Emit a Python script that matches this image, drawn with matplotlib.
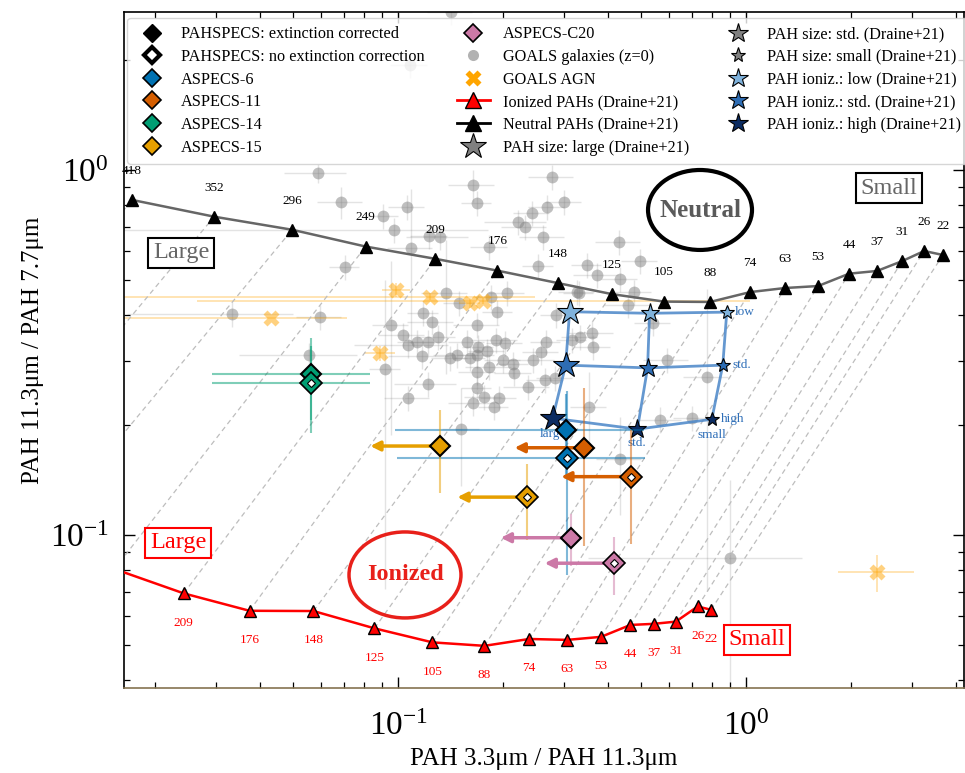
import numpy as np
import matplotlib
matplotlib.use("Agg")
import matplotlib.pyplot as plt
from matplotlib.lines import Line2D
from matplotlib.patches import Ellipse
from matplotlib.ticker import NullFormatter

plt.rcParams['font.family'] = ['Liberation Serif', 'DejaVu Serif']
plt.rcParams['mathtext.fontset'] = 'stix'

# ---------------- data ----------------
# Draine+21 neutral PAH tracks (number of C atoms)
neutral_nc = [418, 352, 296, 249, 209, 176, 148, 125, 105, 88, 74, 63, 53, 44, 37, 31, 26, 22]
neutral_x = [0.0172, 0.0296, 0.0496, 0.0807, 0.128, 0.193, 0.288, 0.412, 0.581, 0.788,
             1.027, 1.294, 1.61, 1.977, 2.379, 2.81, 3.25, 3.68]
neutral_y = [0.828, 0.745, 0.686, 0.617, 0.571, 0.530, 0.490, 0.457, 0.436, 0.435,
             0.463, 0.475, 0.481, 0.520, 0.529, 0.563, 0.600, 0.585]

# ionized PAH tracks (first four fall left of the plotted range)
ionized_nc = [418, 352, 296, 249, 209, 176, 148, 125, 105, 88, 74, 63, 53, 44, 37, 31, 26, 22]
ionized_x = [0.00329, 0.00566, 0.00948, 0.0153, 0.0242, 0.0374, 0.0571, 0.0855, 0.1255, 0.177,
             0.238, 0.306, 0.383, 0.465, 0.543, 0.628, 0.726, 0.793]
ionized_y = [0.125, 0.112, 0.102, 0.0807, 0.0692, 0.0620, 0.0619, 0.0555, 0.0508, 0.0497,
             0.0519, 0.0516, 0.0526, 0.0567, 0.0571, 0.0579, 0.0637, 0.0624]

# PAH size / ionization grid (rows: ioniz low, std, high; cols: size large, std, small)
grid_x = [[0.311, 0.528, 0.880],
          [0.303, 0.521, 0.857],
          [0.278, 0.487, 0.797]]
grid_y = [[0.409, 0.405, 0.408],
          [0.292, 0.287, 0.292],
          [0.209, 0.195, 0.2075]]

# ASPECS galaxies
aspecs_names = ['ASPECS-6', 'ASPECS-11', 'ASPECS-14', 'ASPECS-15', 'ASPECS-C20']
aspecs_colors = ['#0072b2', '#d55e00', '#009e73', '#e69f00', '#cc79a7']
corr_x = [0.304, 0.343, 0.0561, 0.132, 0.313]
corr_y = [0.194, 0.1734, 0.2761, 0.1753, 0.0983]
corr_xerr = [0.206, 0.0, 0.027, 0.0, 0.0]
corr_yerr = [0.05, 0.08, 0.07, 0.045, 0.016]
nocorr_x = [0.306, 0.467, 0.0561, 0.2349, 0.4185]
nocorr_y = [0.1625, 0.1445, 0.2603, 0.127, 0.0837]
nocorr_xerr = [0.207, 0.0, 0.027, 0.0, 0.0]
nocorr_yerr = [0.085, 0.05, 0.07, 0.03, 0.015]
x_upper_limit = [False, True, False, True, True]
limit_arrow_factor = 0.63

# GOALS AGN
agn_x = [0.0432, 0.0888, 0.0987, 0.1236, 0.161, 0.1755, 2.379]
agn_y = [0.393, 0.315, 0.469, 0.449, 0.432, 0.4376, 0.0792]
agn_x_lo = [0.012, 0.080, 0.090, 0.012, 0.150, 0.0265, 1.838]
agn_x_hi = [0.0712, 0.098, 0.108, 0.2475, 0.172, 1.027, 3.04]
agn_y_lo = [0.393, 0.300, 0.450, 0.440, 0.420, 0.430, 0.0698]
agn_y_hi = [0.393, 0.330, 0.490, 0.460, 0.445, 0.445, 0.0882]

# GOALS galaxies (z=0)
goals_x = [0.142, 0.108, 0.0589, 0.0686, 0.0906, 0.0974, 0.106, 0.109, 0.0704, 0.123,
           0.132, 0.164, 0.168, 0.183, 0.221, 0.232, 0.243, 0.253, 0.261, 0.268,
           0.137, 0.206, 0.185, 0.277, 0.300, 0.432, 0.496, 0.349, 0.373, 0.435,
           0.331, 0.477, 0.0333, 0.0597, 0.0555, 0.0918, 0.0955, 0.103, 0.107, 0.113,
           0.118, 0.125, 0.130, 0.117, 0.150, 0.158, 0.169, 0.170, 0.180, 0.191,
           0.203, 0.193, 0.141, 0.148, 0.161, 0.168, 0.183, 0.200, 0.214, 0.215,
           0.244, 0.258, 0.266, 0.265, 0.236, 0.169, 0.168, 0.176, 0.164, 0.195,
           0.188, 0.122, 0.107, 0.152, 0.327, 0.458, 0.284, 0.540, 0.361, 0.333,
           0.316, 0.363, 0.593, 0.283, 0.773, 0.354, 0.566, 0.700, 0.435, 0.899,
           0.122]
goals_y = [2.71, 1.94, 0.981, 0.817, 0.748, 0.685, 0.792, 0.611, 0.542, 0.659,
           0.655, 0.910, 0.812, 0.615, 0.720, 0.698, 0.762, 0.546, 0.655, 0.792,
           0.460, 0.460, 0.449, 0.957, 0.817, 0.635, 0.563, 0.549, 0.516, 0.503,
           0.460, 0.463, 0.403, 0.396, 0.311, 0.285, 0.376, 0.353, 0.332, 0.338,
           0.406, 0.383, 0.349, 0.309, 0.432, 0.338, 0.376, 0.328, 0.319, 0.342,
           0.336, 0.408, 0.305, 0.311, 0.305, 0.311, 0.289, 0.302, 0.294, 0.278,
           0.302, 0.317, 0.338, 0.266, 0.254, 0.280, 0.253, 0.239, 0.230, 0.237,
           0.224, 0.259, 0.237, 0.195, 0.463, 0.427, 0.401, 0.381, 0.358, 0.349,
           0.342, 0.328, 0.302, 0.269, 0.271, 0.224, 0.207, 0.209, 0.162, 0.0865,
           0.338]
goals_xerr_rel = [0.15, 0.12, 0.20, 0.15, 0.10, 0.86, 0.12, 0.15, 0.10, 0.12,
                  0.20, 0.15, 0.10, 0.12, 0.20, 0.15, 0.12, 0.10, 0.15, 0.12,
                  0.15, 0.12, 0.10, 0.15, 0.12, 0.15, 0.12, 0.10, 0.15, 0.12,
                  0.10, 0.12, 0.50, 0.15, 0.37, 0.10, 0.12, 0.15, 0.30, 0.12,
                  0.10, 0.15, 0.12, 0.20, 0.10, 0.12, 0.15, 0.10, 0.12, 0.15,
                  0.12, 0.10, 0.12, 0.15, 0.10, 0.12, 0.15, 0.12, 0.10, 0.12,
                  0.15, 0.12, 0.10, 0.12, 0.15, 0.12, 0.10, 0.12, 0.15, 0.12,
                  0.10, 0.20, 0.15, 0.12, 0.12, 0.15, 0.10, 0.12, 0.15, 0.12,
                  0.10, 0.12, 0.15, 0.12, 0.15, 0.12, 0.15, 0.12, 0.15, 0.61,
                  0.12]
goals_yerr_rel = [0.08, 0.08, 0.06, 0.10, 0.08, 0.08, 0.08, 0.45, 0.08, 0.08,
                  0.08, 0.10, 0.08, 0.08, 0.08, 0.08, 0.08, 0.08, 0.08, 0.08,
                  0.40, 0.08, 0.08, 0.08, 0.08, 0.08, 0.08, 0.08, 0.08, 0.08,
                  0.08, 0.08, 0.08, 0.08, 0.08, 0.75, 0.50, 0.08, 0.08, 0.08,
                  0.08, 0.08, 0.08, 0.08, 0.08, 0.08, 0.08, 0.08, 0.08, 0.08,
                  0.08, 0.08, 0.08, 0.08, 0.08, 0.08, 0.08, 0.08, 0.08, 0.08,
                  0.08, 0.08, 0.08, 0.08, 0.08, 0.08, 0.08, 0.08, 0.08, 0.08,
                  0.08, 0.08, 0.08, 0.30, 0.08, 0.08, 0.08, 0.08, 0.08, 0.08,
                  0.08, 0.08, 0.08, 0.08, 0.74, 0.25, 0.08, 0.08, 0.30, 0.64,
                  0.08]

# ---------------- figure ----------------
fig = plt.figure(figsize=(9.65, 7.73), dpi=100)
ax = fig.add_axes([0.1285, 0.1100, 0.8705, 0.8745])
ax.set_xscale('log')
ax.set_yscale('log')
ax.set_xlim(0.0163, 4.23)
ax.set_ylim(0.0381, 2.71)

# GOALS galaxies
gx = np.array(goals_x)
gy = np.array(goals_y)
ax.errorbar(gx, gy, xerr=gx * np.array(goals_xerr_rel), yerr=gy * np.array(goals_yerr_rel),
            fmt='none', ecolor='grey', elinewidth=1.0, alpha=0.22, zorder=1)
ax.plot(gx, gy, 'o', color='grey', ms=8.5, mec='none', alpha=0.5, zorder=2)

# GOALS AGN
ax_ = np.array(agn_x)
ay_ = np.array(agn_y)
ax.errorbar(ax_, ay_, xerr=[ax_ - np.array(agn_x_lo), np.array(agn_x_hi) - ax_],
            yerr=[ay_ - np.array(agn_y_lo), np.array(agn_y_hi) - ay_],
            fmt='none', ecolor='orange', elinewidth=1.2, alpha=0.35, zorder=2)
ax.plot(ax_, ay_, 'X', color='orange', ms=12, mec='none', alpha=0.5, zorder=3)

# dashed connectors between ionized and neutral tracks
for i in range(len(neutral_nc)):
    ax.plot([ionized_x[i], neutral_x[i]], [ionized_y[i], neutral_y[i]], ls=(0, (4, 3)),
            color='#bdbdbd', lw=0.9, zorder=2.5)

# neutral track
ax.plot(neutral_x, neutral_y, '-', color='#666666', lw=1.8, zorder=4)
ax.plot(neutral_x, neutral_y, '^', color='black', ms=9, zorder=4.5)
for n, x, y in zip(neutral_nc, neutral_x, neutral_y):
    ax.annotate(str(n), (x, y), xytext=(0, 21), textcoords='offset points',
                ha='center', va='center', fontsize=9.5, color='black', zorder=4.5)

# ionized track
ax.plot(ionized_x, ionized_y, '-', color='red', lw=1.8, zorder=4)
ax.plot(ionized_x, ionized_y, '^', mfc='red', mec='black', mew=1.0, ms=9, zorder=4.5)
for n, x, y in zip(ionized_nc, ionized_x, ionized_y):
    ax.annotate(str(n), (x, y), xytext=(0, -21), textcoords='offset points',
                ha='center', va='center', fontsize=9.5, color='red', zorder=4.5)

# size / ionization grid
ion_colors = ['#7fb2dc', '#2e6db4', '#0c2c62']
size_ms = [19, 14, 10.5]
gxg = np.array(grid_x)
gyg = np.array(grid_y)
for r in range(3):
    ax.plot(gxg[r], gyg[r], '-', color='#4a86c8', lw=2, alpha=0.85, zorder=5)
for c in range(3):
    ax.plot(gxg[:, c], gyg[:, c], '-', color='#4a86c8', lw=2, alpha=0.85, zorder=5)
for r in range(3):
    for c in range(3):
        ax.plot(gxg[r, c], gyg[r, c], '*', ms=size_ms[c], mfc=ion_colors[r], mec='black',
                mew=0.8, zorder=5.5)
lab_col = '#2f6fb8'
ax.annotate('low', (gxg[0, 2], gyg[0, 2]), xytext=(6, 0), textcoords='offset points',
            ha='left', va='center', fontsize=9.5, color=lab_col, zorder=5.5)
ax.annotate('std.', (gxg[1, 2], gyg[1, 2]), xytext=(7, 0), textcoords='offset points',
            ha='left', va='center', fontsize=9.5, color=lab_col, zorder=5.5)
ax.annotate('high', (gxg[2, 2], gyg[2, 2]), xytext=(6.5, 0.5), textcoords='offset points',
            ha='left', va='center', fontsize=9.5, color=lab_col, zorder=5.5)
ax.annotate('small', (gxg[2, 2], gyg[2, 2]), xytext=(0, -11), textcoords='offset points',
            ha='center', va='center', fontsize=9.5, color=lab_col, zorder=5.5)
ax.annotate('std.', (gxg[2, 1], gyg[2, 1]), xytext=(0, -10), textcoords='offset points',
            ha='center', va='center', fontsize=9.5, color=lab_col, zorder=5.5)
ax.annotate('large', (gxg[2, 0], gyg[2, 0]), xytext=(0, -11.5), textcoords='offset points',
            ha='center', va='center', fontsize=9.5, color=lab_col, zorder=5.5)

# ASPECS
for i, (name, col) in enumerate(zip(aspecs_names, aspecs_colors)):
    for (px, py, pxe, pye, opn) in [(corr_x[i], corr_y[i], corr_xerr[i], corr_yerr[i], False),
                                   (nocorr_x[i], nocorr_y[i], nocorr_xerr[i], nocorr_yerr[i], True)]:
        ax.errorbar([px], [py], xerr=[pxe] if pxe > 0 else None, yerr=[pye],
                    fmt='none', ecolor=col, elinewidth=1.5, alpha=0.5, zorder=6)
        if x_upper_limit[i]:
            ax.annotate('', xy=(px * limit_arrow_factor, py), xytext=(px, py),
                        arrowprops=dict(arrowstyle='-|>', color=col, lw=2.5,
                                        mutation_scale=14, shrinkA=0, shrinkB=0),
                        zorder=6.5)
        if opn:
            ax.plot(px, py, 'D', ms=11.5, mfc=col, mec='black', mew=1.2, zorder=7.5)
            ax.plot(px, py, 'D', ms=4.5, mfc='white', mec='black', mew=0.8, zorder=7.6)
        else:
            ax.plot(px, py, 'D', ms=10, mfc=col, mec='black', mew=1.5, zorder=7)

# region annotations
box_kw = dict(boxstyle='square,pad=0.2', fc='white', lw=1.5)
ax.text(0.0679, 0.6435, 'Large', transform=ax.transAxes, ha='center', va='center',
        fontsize=17.5, color='#666666', bbox=dict(ec='black', **box_kw), zorder=8)
ax.text(0.9107, 0.7396, 'Small', transform=ax.transAxes, ha='center', va='center',
        fontsize=17.5, color='#666666', bbox=dict(ec='black', **box_kw), zorder=8)
ax.text(0.0643, 0.2145, 'Large', transform=ax.transAxes, ha='center', va='center',
        fontsize=17.5, color='red', bbox=dict(ec='red', **box_kw), zorder=8)
ax.text(0.7536, 0.0710, 'Small', transform=ax.transAxes, ha='center', va='center',
        fontsize=17.5, color='red', bbox=dict(ec='red', **box_kw), zorder=8)

ax.add_patch(Ellipse((0.6857, 0.7071), 0.1238, 0.1183, transform=ax.transAxes,
                     fill=False, ec='black', lw=3.0, zorder=8))
ax.text(0.6857, 0.7056, 'Neutral', transform=ax.transAxes, ha='center', va='center',
        fontsize=18, fontweight='bold', color='#5a5a5a', zorder=8)
ax.add_patch(Ellipse((0.3345, 0.1672), 0.1333, 0.1272, transform=ax.transAxes,
                     fill=False, ec='#e8201a', lw=2.5, zorder=8))
ax.text(0.3357, 0.1672, 'Ionized', transform=ax.transAxes, ha='center', va='center',
        fontsize=17.5, fontweight='bold', color='#e8201a', zorder=8)

# axes styling
ax.tick_params(which='both', direction='in', top=True, right=True)
ax.tick_params(which='major', length=8, width=1.0, labelsize=24)
ax.tick_params(which='minor', length=4, width=0.9)
ax.tick_params(axis='y', which='major', pad=11)
ax.tick_params(axis='x', which='major', pad=17)
ax.xaxis.set_minor_formatter(NullFormatter())
ax.yaxis.set_minor_formatter(NullFormatter())
for s in ax.spines.values():
    s.set_linewidth(1.2)
ax.spines['bottom'].set_color('#857350')
ax.set_xlabel('PAH 3.3μm / PAH 11.3μm', fontsize=18, labelpad=4)
ax.set_ylabel('PAH 11.3μm / PAH 7.7μm', fontsize=18, labelpad=4)

# legend
handles = [
    Line2D([], [], ls='none', marker='D', ms=9, mfc='black', mec='black', label='PAHSPECS: extinction corrected'),
    Line2D([], [], ls='none', marker='D', ms=8, mfc='white', mec='black', mew=3, label='PAHSPECS: no extinction correction'),
]
for name, col in zip(aspecs_names[:4], aspecs_colors[:4]):
    handles.append(Line2D([], [], ls='none', marker='D', ms=9, mfc=col, mec='black', mew=1.2, label=name))
handles += [
    Line2D([], [], ls='none', marker='D', ms=9, mfc=aspecs_colors[4], mec='black', mew=1.2, label=aspecs_names[4]),
    Line2D([], [], ls='none', marker='o', ms=8, mfc='grey', mec='none', alpha=0.6, label='GOALS galaxies (z=0)'),
    Line2D([], [], ls='none', marker='X', ms=12, mfc='orange', mec='none', label='GOALS AGN'),
    Line2D([], [], color='red', lw=2, marker='^', ms=12, mfc='red', mec='black', label='Ionized PAHs (Draine+21)'),
    Line2D([], [], color='black', lw=2, marker='^', ms=12, mfc='black', mec='black', label='Neutral PAHs (Draine+21)'),
    Line2D([], [], ls='none', marker='*', ms=19, mfc='grey', mec='black', mew=0.8, label='PAH size: large (Draine+21)'),
    Line2D([], [], ls='none', marker='*', ms=15, mfc='grey', mec='black', mew=0.8, label='PAH size: std. (Draine+21)'),
    Line2D([], [], ls='none', marker='*', ms=11, mfc='grey', mec='black', mew=0.8, label='PAH size: small (Draine+21)'),
    Line2D([], [], ls='none', marker='*', ms=15, mfc=ion_colors[0], mec='black', mew=0.8, label='PAH ioniz.: low (Draine+21)'),
    Line2D([], [], ls='none', marker='*', ms=15, mfc=ion_colors[1], mec='black', mew=0.8, label='PAH ioniz.: std. (Draine+21)'),
    Line2D([], [], ls='none', marker='*', ms=15, mfc=ion_colors[2], mec='black', mew=0.8, label='PAH ioniz.: high (Draine+21)'),
]
leg = ax.legend(handles=handles, loc='upper left', bbox_to_anchor=(0.004, 0.991), ncol=3,
                fontsize=11.7, frameon=True, fancybox=True, framealpha=0.8, edgecolor='#cccccc',
                handlelength=2.0, handletextpad=0.8, columnspacing=2.0, labelspacing=0.41,
                borderpad=0.5, borderaxespad=0.0)
leg.set_zorder(20)

fig.savefig('out.png', dpi=100)
